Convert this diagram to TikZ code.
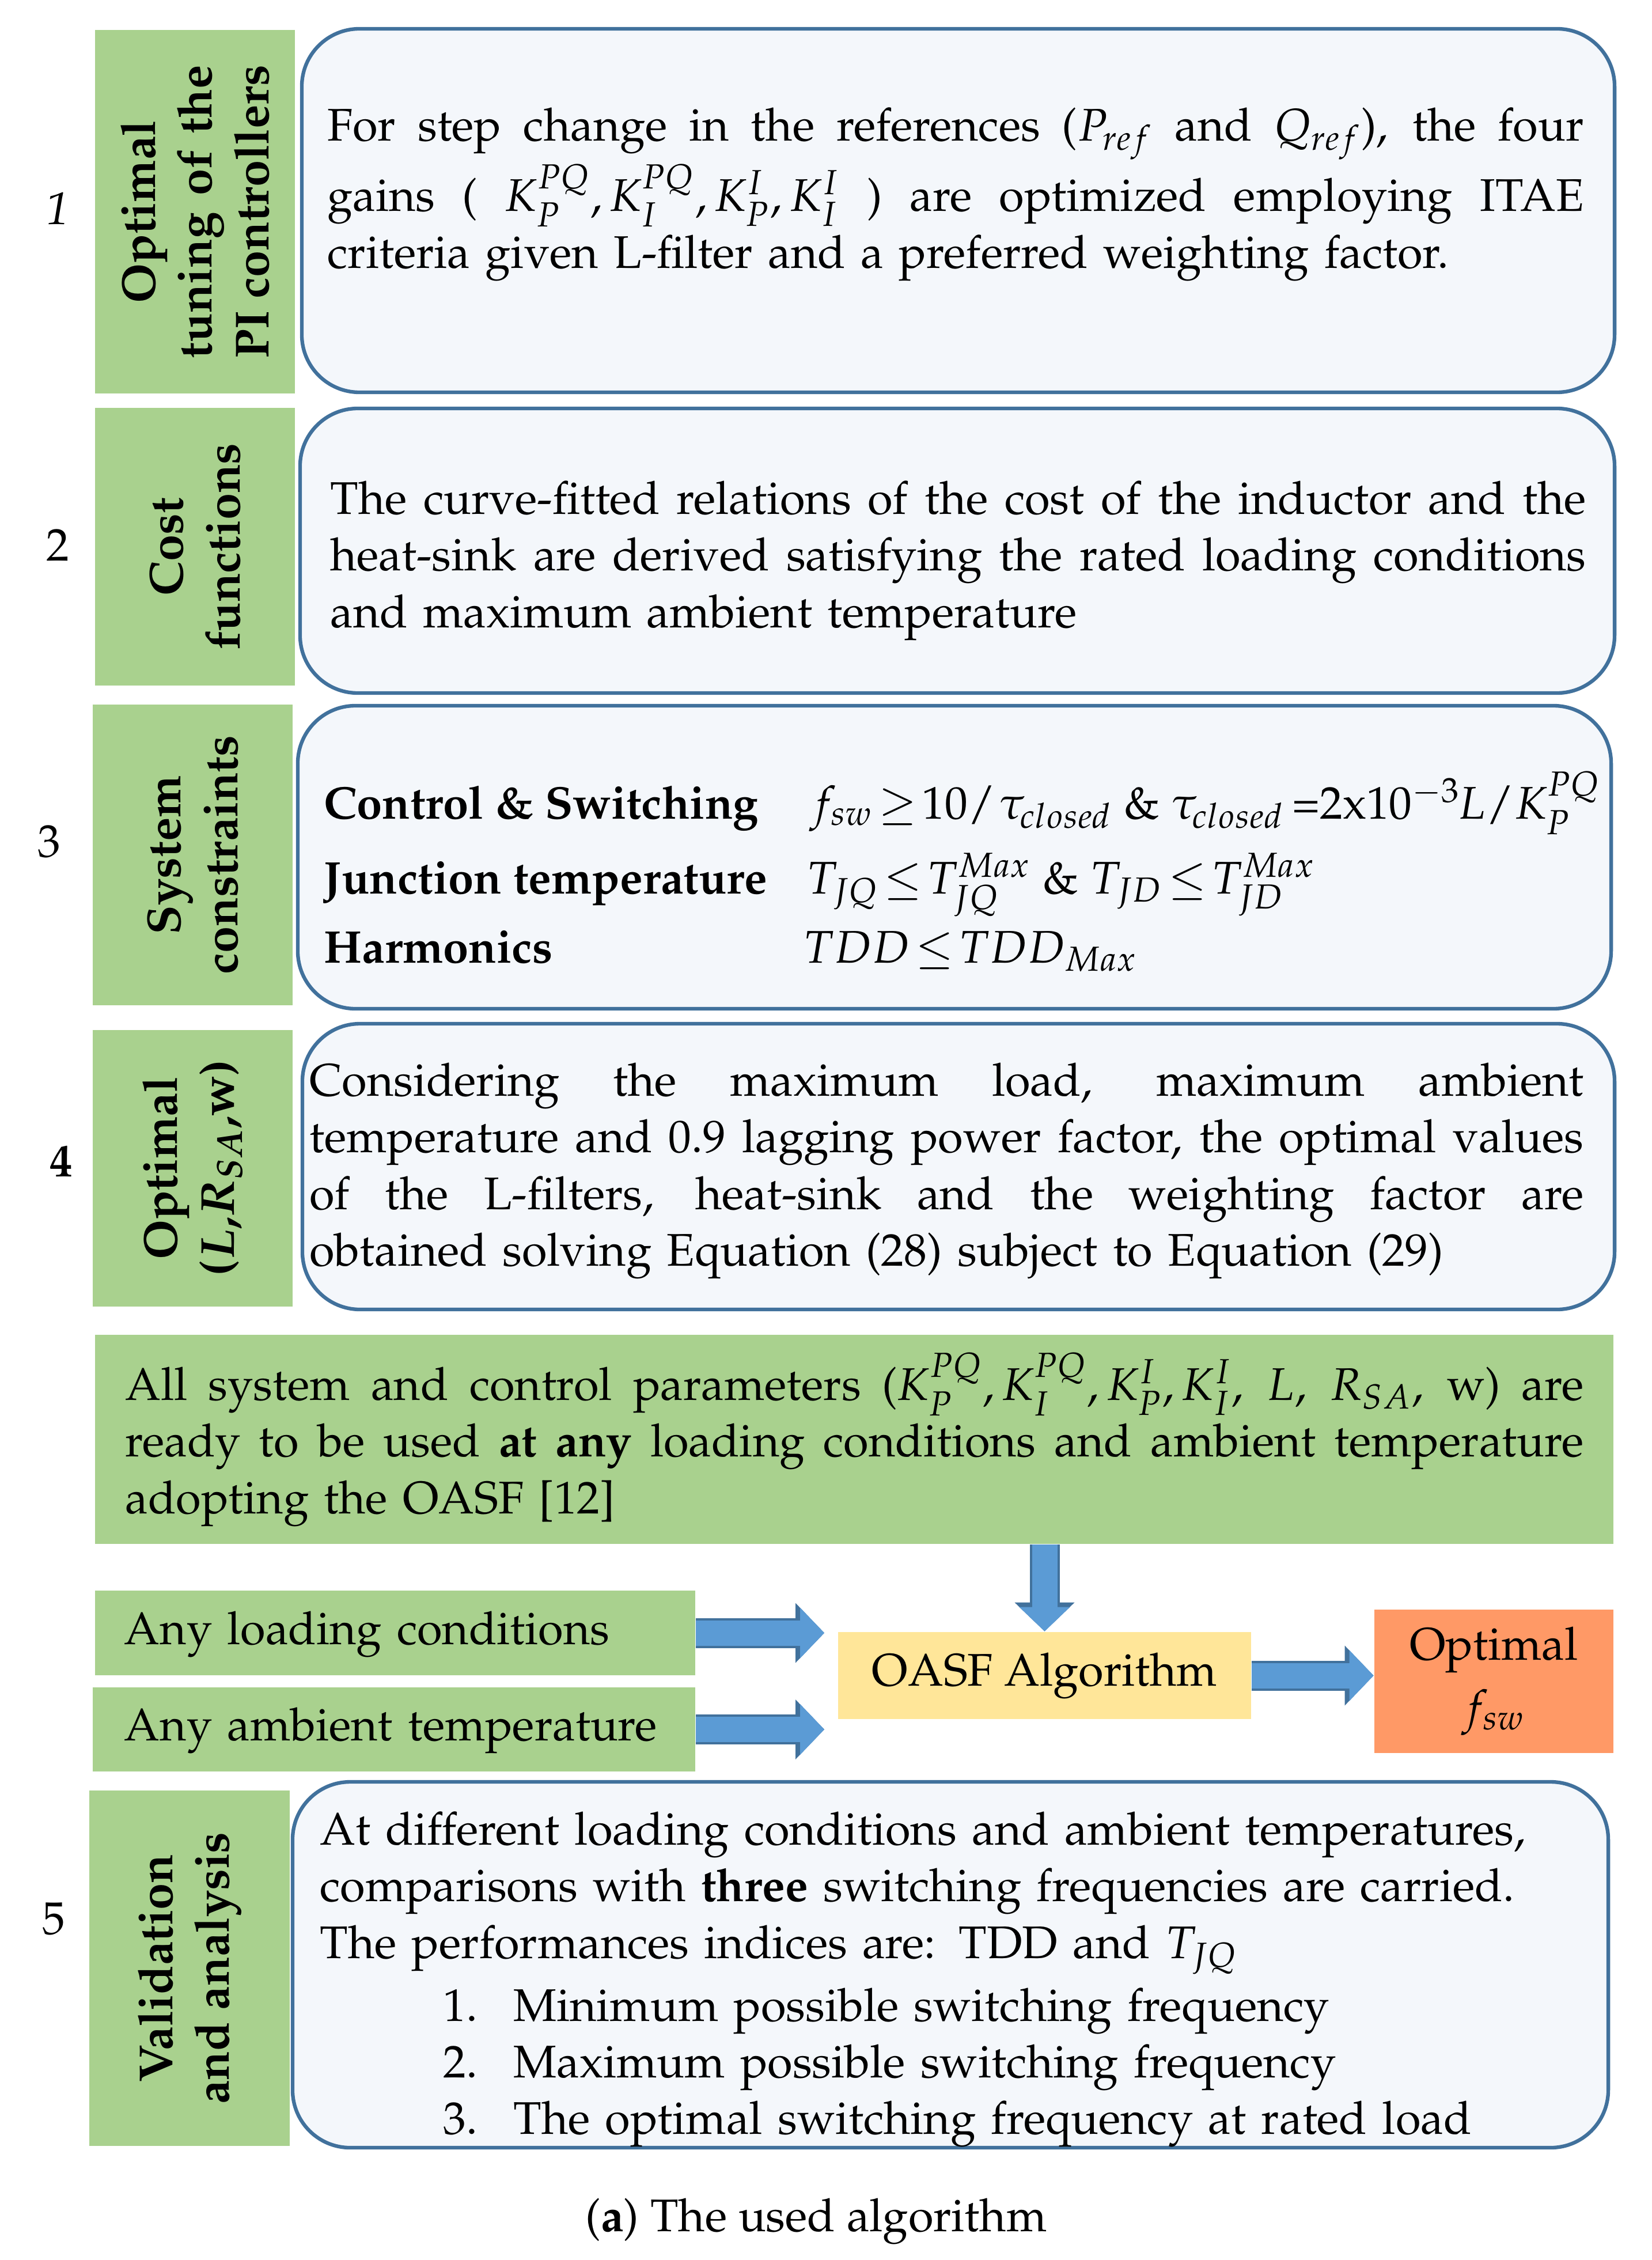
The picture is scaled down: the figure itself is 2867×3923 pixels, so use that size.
\documentclass[tikz,border=0pt]{standalone}
\usepackage[T1]{fontenc}
\usepackage{mathpazo}
\usepackage{xcolor}
\usetikzlibrary{arrows.meta}
\definecolor{label-green}{HTML}{A9D18E}
\definecolor{frame-blue}{HTML}{41719C}
\definecolor{box-fill}{HTML}{F4F7FB}
\definecolor{arrow-blue}{HTML}{5B9BD5}
\definecolor{algo-yellow}{HTML}{FFE699}
\definecolor{out-orange}{HTML}{FF9966}
\newlength{\labw}
\newcommand{\bodysize}{\fontsize{11.3}{14}\selectfont}
\newcommand{\jline}[2]{\makebox[#1][s]{\spaceskip=0pt\relax\xspaceskip=0pt\relax\strut #2}\\}
\newcommand{\tightmath}{\thickmuskip=2mu\medmuskip=1mu\thinmuskip=1mu}

\begin{document}
\begin{tikzpicture}[x=0.05mm, y=-0.05mm,
    every node/.style={font=\bodysize, inner sep=0pt},
    labbox/.style={fill=label-green, rotate=90, align=center,
      font=\fontsize{11.8}{14}\selectfont\bfseries\boldmath},
    stepbox/.style={draw=frame-blue, line width=0.9pt, fill=box-fill,
      rounded corners=5mm},
    textblock/.style={anchor=north west, align=left},
    fatarrow/.style={draw=arrow-blue, line width=2.2mm,
      -{Triangle[length=2.1mm, width=4.4mm, line width=0pt]},
      preaction={draw=frame-blue, line width=2.6mm,
        -{Triangle[length=2.5mm, width=5.2mm, line width=0pt]}}}]
    \useasboundingbox[fill=white] (0,0) rectangle (2867,3923);

    \node (num1) at (100,362) {\textit{1}};
    \node[labbox, minimum width=31.55mm, minimum height=17.35mm] (lab1)
      at (338.5,367.5) {Optimal\\\settowidth{\labw}{PI controllers}%
        \makebox[\labw][s]{\spaceskip=0pt\relax tuning of the}\\PI controllers};
    \node[stepbox, minimum width=113.95mm, minimum height=31.55mm] (main1)
      at (1663.5,365.5) {};
    \node[textblock, text width=109.05mm] (txt1) at (567,174)
      {\jline{109.05mm}{For step change in the references ($P_{ref}$ and $Q_{ref}$), the four}
       \jline{109.05mm}{gains ( $K_P^{PQ},K_I^{PQ},K_P^I,K_I^I$ ) are optimized employing ITAE}
       criteria given L-filter and a preferred weighting factor.};

    \node (num2) at (100,946) {2};
    \node[labbox, minimum width=24.1mm, minimum height=17.35mm] (lab2)
      at (338.5,949) {Cost\\functions};
    \node[stepbox, minimum width=114.1mm, minimum height=24.7mm] (main2)
      at (1662,956) {};
    \node[textblock, text width=109mm] (txt2) at (572,822)
      {\jline{109mm}{The curve-fitted relations of the cost of the inductor and the}
       \jline{109mm}{heat-sink are derived satisfying the rated loading conditions}
       and maximum ambient temperature};

    \node (num3) at (85,1461) {3};
    \node[labbox, minimum width=26.1mm, minimum height=17.35mm] (lab3)
      at (334.5,1484) {System\\constraints};
    \node[stepbox, minimum width=114mm, minimum height=26.3mm] (main3)
      at (1657,1488) {};
    \node[anchor=base west, font=\bodysize\bfseries] (ctrl) at (561,1421)
      {Control \& Switching};
    \node[anchor=base west] (ctrlf) at (1405,1421)
      {\tightmath$f_{sw}\geq 10/\,\tau_{closed}$ \& $\tau_{closed}$\,=2x10$^{-3}\!L/K_P^{PQ}$};
    \node[anchor=base west, font=\bodysize\bfseries] (junc) at (561,1551)
      {Junction temperature};
    \node[anchor=base west] (juncf) at (1399,1551)
      {\tightmath$T_{JQ}\leq T_{JQ}^{Max}$ \& $T_{JD}\leq T_{JD}^{Max}$};
    \node[anchor=base west, font=\bodysize\bfseries] (harm) at (561,1671)
      {Harmonics};
    \node[anchor=base west] (harmf) at (1393,1671)
      {\tightmath$TDD\leq TDD_{Max}$};

    \node (num4) at (106,2016) {\textbf{4}};
    \node[labbox, minimum width=24mm, minimum height=17.35mm] (lab4)
      at (334.5,2028) {Optimal\\($L$,$R_{SA}$,w)};
    \node[stepbox, minimum width=113.9mm, minimum height=24.8mm] (main4)
      at (1664,2025) {};
    \node[textblock, text width=110.6mm] (txt4) at (536,1832)
      {\jline{110.6mm}{Considering the maximum load, maximum ambient}
       \jline{110.6mm}{temperature and 0.9 lagging power factor, the optimal values}
       \jline{110.6mm}{of the L-filters, heat-sink and the weighting factor are}
       obtained solving Equation (28) subject to Equation (29)};

    \node[fill=label-green, minimum width=131.8mm, minimum height=18.15mm]
      (params) at (1483,2498.5) {};
    \node[textblock, text width=126.6mm] (paramtxt) at (216,2347)
      {\jline{126.6mm}{All system and control parameters ($K_P^{PQ},K_I^{PQ},K_P^I,K_I^I$, $L$, $R_{SA}$, w) are}
       \jline{126.6mm}{ready to be used \textbf{at any} loading conditions and ambient temperature}
       adopting the OASF [12]};

    \node[fill=label-green, minimum width=52.1mm, minimum height=7.35mm,
      text width=52.1mm, align=left] (load) at (686,2834.5)
      {\strut\hspace*{2.55mm}Any loading conditions};
    \node[fill=label-green, minimum width=52.3mm, minimum height=7.3mm,
      text width=52.3mm, align=left] (amb) at (684,3002)
      {\strut\hspace*{2.75mm}Any ambient temperature};
    \node[fill=algo-yellow, minimum width=35.85mm, minimum height=7.55mm]
      (oasf) at (1813.5,2908.5) {OASF Algorithm};
    \node[fill=out-orange, minimum width=20.75mm, minimum height=12.45mm,
      align=center] (opt) at (2593.5,2918.5) {Optimal\\[1.5pt]$f_{sw}$};
    \coordinate (loadtip) at (1431,2834.5);
    \coordinate (ambtip) at (1431,3002);
    \draw[fatarrow] (load.east) -- (loadtip);
    \draw[fatarrow] (amb.east) -- (ambtip);
    \draw[fatarrow] (params.south -| oasf.north) -- (oasf.north);
    \draw[fatarrow] (oasf.east) -- (oasf.east -| opt.west);

    \node (num5) at (93,3331) {5};
    \node[labbox, minimum width=30.85mm, minimum height=17.4mm] (lab5)
      at (329,3416.5) {Validation\\and analysis};
    \node[stepbox, minimum width=114.2mm, minimum height=31.75mm] (main5)
      at (1650,3410.5) {};
    \node[textblock, text width=111.5mm] (txt5) at (554,3132)
      {\strut At different loading conditions and ambient temperatures,\\
       comparisons with \textbf{three} switching frequencies are carried.\\
       The performances indices are: TDD and $T_{JQ}$\\[1.5pt]
       \hspace*{10.7mm}\makebox[6.1mm][l]{1.}Minimum possible switching frequency\\
       \hspace*{10.7mm}\makebox[6.1mm][l]{2.}Maximum possible switching frequency\\
       \hspace*{10.7mm}\makebox[6.1mm][l]{3.}The optimal switching frequency at rated load};

    \node[anchor=base] (caption) at (1417,3873) {(\textbf{a}) The used algorithm};
  \end{tikzpicture}
\end{document}
